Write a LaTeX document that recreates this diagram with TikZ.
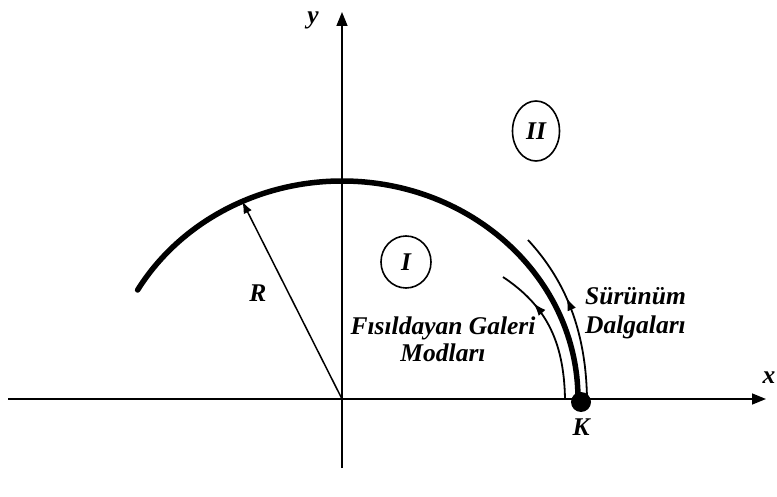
\documentclass[tikz,border=0pt]{standalone}
\usepackage{fontspec}
\setmainfont{Liberation Serif}
\usetikzlibrary{arrows.meta,positioning,shapes.geometric,decorations.markings}

\begin{document}
\begin{tikzpicture}[
  x=1pt,y=1pt,
  node distance=2pt and 4pt,
  lbl/.style={font=\fontsize{25.5}{29}\selectfont\bfseries\itshape,inner sep=1pt},
  region/.style={ellipse,draw,line width=1.6pt,inner sep=0pt,font=\fontsize{25.5}{29}\selectfont\bfseries\itshape},
  axis/.style={line width=1.5pt,-{Triangle[length=14pt,width=11pt]}},
  wave/.style={line width=1.8pt,postaction={decorate},
    decoration={markings,mark=at position #1 with {\arrow{Latex[length=13pt,width=9pt]}}}},
]
\useasboundingbox (0,0) rectangle (777,496);

\coordinate (O) at (342,97);
\coordinate (xl) at (8,97);
\coordinate (xr) at (766,97);
\coordinate (yb) at (342,28);
\coordinate (yt) at (342,484);
\coordinate (Rtip) at (242.3,294.6);

\node[lbl] (ylab) at (313,476) {y};
\node[lbl] (xlab) at (769,118) {x};
\node[lbl] (R) at (258,203) {R};
\node[region,minimum width=50pt,minimum height=52pt] (I) at (406,234) {I};
\node[region,minimum width=47pt,minimum height=60pt] (II) at (536,365) {II};
\node[lbl] (fg) at (443,168) {Fısıldayan Galeri};
\node[lbl,below=of fg] (mod) {Modları};
\node[lbl,align=left,anchor=west] (sd) at (584,183) {Sürünüm\\Dalgaları};
\node[circle,fill,minimum size=20pt,inner sep=0pt] (K) at (581,94) {};
\node[lbl,below=5pt of K] (Klab) {K};

\draw[axis] (xl) -- (xr);
\draw[axis] (yb) -- (yt);
\draw[line width=5.5pt,line cap=round] (578,97) arc[start angle=0,end angle=150,x radius=236,y radius=218];
\draw[line width=1.5pt,-{Latex[length=12pt,width=9pt]}] (O) -- (Rtip);
\draw[wave=0.72] (565,97) .. controls (564,156) and (545,191) .. (503,219);
\draw[wave=0.6] (587,97) .. controls (586,166) and (565,216) .. (528,256);
\end{tikzpicture}
\end{document}
